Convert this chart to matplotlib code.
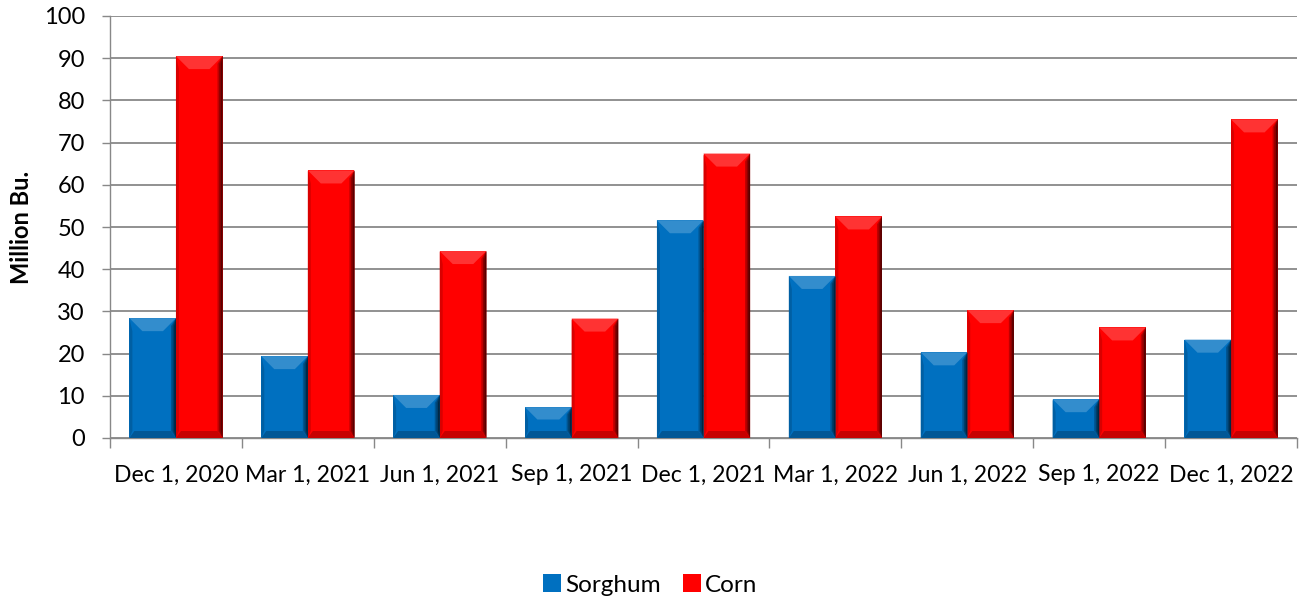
import matplotlib.pyplot as plt
from matplotlib.patches import Polygon
import numpy as np

dates = ["Dec 1, 2020", "Mar 1, 2021", "Jun 1, 2021", "Sep 1, 2021", "Dec 1, 2021",
         "Mar 1, 2022", "Jun 1, 2022", "Sep 1, 2022", "Dec 1, 2022"]
sorghum = [28.4, 19.4, 10.2, 7.3, 51.6, 38.4, 20.3, 9.2, 23.3]
corn = [90.5, 63.4, 44.3, 28.3, 67.4, 52.5, 30.3, 26.2, 75.5]

plt.rcParams['font.family'] = ['Lato', 'DejaVu Sans']


def shade(c, f):
    c = np.array(c)
    if f < 1:
        return tuple(c * f)
    return tuple(c + (1 - c) * (f - 1))


def bevel(ax, bars, color):
    # fake the Office bevel look: light top, dark right/bottom edges
    fig = ax.figure
    fig.canvas.draw()
    inv = ax.transData.inverted()
    rgb = plt.matplotlib.colors.to_rgb(color)
    for b in bars:
        x0, y0 = b.get_x(), b.get_y()
        x1, y1 = x0 + b.get_width(), y0 + b.get_height()
        p0 = ax.transData.transform((x0, y0))
        p1 = ax.transData.transform((x1, y1))
        d = min(13, (p1[1] - p0[1]) / 2.5, (p1[0] - p0[0]) / 3)
        s = min(7, (p1[1] - p0[1]) / 3)
        dx = inv.transform((p0[0] + d, p0[1]))[0] - x0
        sx = inv.transform((p0[0] + 5, p0[1]))[0] - x0
        dy = inv.transform((p0[0], p0[1] + d))[1] - y0
        sy = inv.transform((p0[0], p0[1] + s))[1] - y0
        # right edge gradient
        for i, f in enumerate([0.75, 0.55, 0.35]):
            w = sx * (3 - i) / 3
            ax.add_patch(Polygon([(x1 - w, y0 + sy), (x1, y0), (x1, y1), (x1 - w, y1 - dy * 0.6)],
                                 closed=True, color=shade(rgb, f), lw=0, zorder=3 + i * 0.01))
        # left edge
        ax.add_patch(Polygon([(x0, y0), (x0 + sx * 0.6, y0 + sy), (x0 + sx * 0.6, y1 - dy), (x0, y1)],
                             closed=True, color=shade(rgb, 0.85), lw=0, zorder=3))
        # top bevel
        ax.add_patch(Polygon([(x0, y1), (x1, y1), (x1 - dx, y1 - dy), (x0 + dx, y1 - dy)],
                             closed=True, color=shade(rgb, 1.2), lw=0, zorder=3.1))
        # bottom bevel
        ax.add_patch(Polygon([(x0, y0), (x1, y0), (x1 - sx, y0 + sy), (x0 + sx, y0 + sy)],
                             closed=True, color=shade(rgb, 0.78), lw=0, zorder=3.1))


fig = plt.figure(figsize=(13.01, 6.0), dpi=100)
ax = fig.add_axes([110 / 1301, 1 - 438 / 600, (1297 - 110) / 1301, (438 - 16) / 600])

x = np.arange(len(dates))
w = 0.353
b1 = ax.bar(x - w / 2, sorghum, w, color="#0070C0", zorder=2, label="Sorghum")
b2 = ax.bar(x + w / 2, corn, w, color="#FF0000", zorder=2, label="Corn")

ax.set_xlim(-0.5, len(dates) - 0.5)
ax.set_ylim(0, 100)
ax.set_yticks(range(0, 101, 10))
ax.set_xticks(x)
ax.set_xticklabels(dates, fontsize=16.6)
ax.set_xticks(np.arange(-0.5, len(dates), 1), minor=True)
ax.tick_params(axis='x', which='major', length=0, pad=19)
ax.tick_params(axis='x', which='minor', length=7, color="#888888", width=1)
ax.tick_params(axis='y', length=6, color="#888888", width=1, labelsize=17, pad=12)
ax.grid(axis='y', color="#888888", lw=1.3, zorder=0)
for s in ["top", "right"]:
    ax.spines[s].set_visible(False)
for s in ["left", "bottom"]:
    ax.spines[s].set_color("#888888")
    ax.spines[s].set_linewidth(1)
ax.set_ylabel("Million Bu.", fontsize=17, fontweight='bold', labelpad=8)

bevel(ax, b1, "#0070C0")
bevel(ax, b2, "#FF0000")

fig.legend(handles=[b1, b2], loc='center', bbox_to_anchor=(650 / 1301, 1 - 585 / 600),
           ncol=2, frameon=False, fontsize=17.5, handlelength=0.75, handleheight=0.75,
           handletextpad=0.15, columnspacing=0.9)

fig.savefig("out.png", dpi=100)
